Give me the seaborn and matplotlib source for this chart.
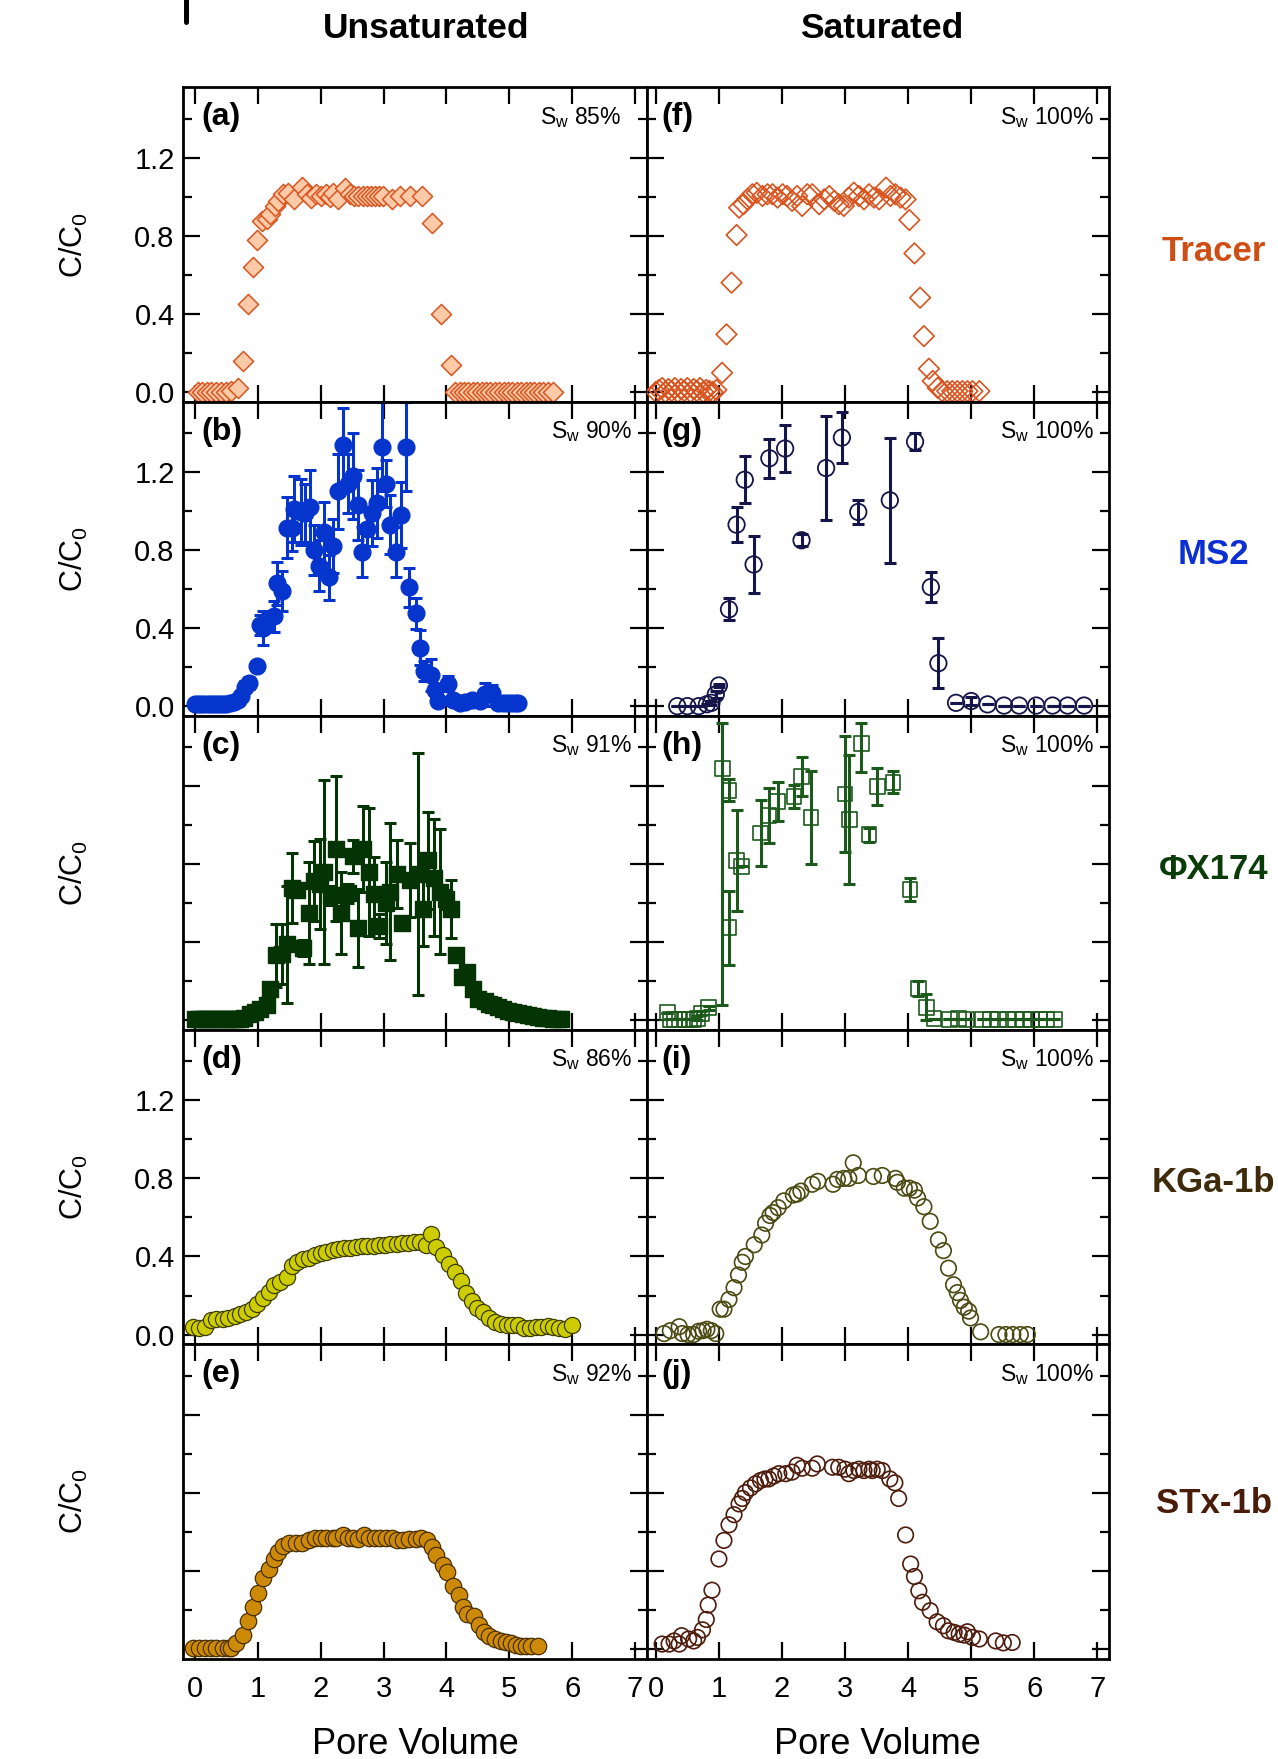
import matplotlib
matplotlib.use("Agg")
from matplotlib import pyplot as plt
from matplotlib.lines import Line2D
from matplotlib.ticker import MultipleLocator, FormatStrFormatter
import seaborn as sns

# ---------------- data ----------------
# (a) tracer, unsaturated
tracer_unsat_x = [0.05, 0.11, 0.19, 0.26, 0.34, 0.42, 0.50, 0.58, 0.69, 0.77, 0.85, 0.93,
                  0.99, 1.06, 1.14, 1.19, 1.27, 1.32, 1.40, 1.48, 1.57, 1.70, 1.78, 1.85,
                  1.92, 2.01, 2.08, 2.15, 2.20, 2.28, 2.38, 2.46, 2.53, 2.60, 2.67, 2.73,
                  2.80, 2.86, 2.93, 2.99, 3.13, 3.26, 3.42, 3.61, 3.77, 3.92, 4.07, 4.14,
                  4.21, 4.28, 4.35, 4.42, 4.49, 4.56, 4.63, 4.70, 4.77, 4.84, 4.91, 4.98,
                  5.05, 5.12, 5.19, 5.26, 5.33, 5.40, 5.47, 5.54, 5.61, 5.70]
tracer_unsat_y = [0.0, 0.0, 0.0, 0.0, 0.0, 0.0, 0.0, 0.005, 0.021, 0.16, 0.45, 0.64,
                  0.78, 0.876, 0.885, 0.91, 0.953, 0.979, 1.013, 1.021, 0.991, 1.05, 1.013, 0.996,
                  1.013, 1.004, 1.013, 1.0, 1.021, 0.991, 1.047, 1.013, 1.004, 1.004, 1.004, 1.004,
                  1.004, 1.004, 1.004, 1.004, 0.987, 1.004, 1.004, 1.004, 0.864, 0.40, 0.14, 0.0,
                  0.0, 0.0, 0.0, 0.0, 0.0, 0.0, 0.0, 0.0, 0.0, 0.0, 0.0, 0.0,
                  0.0, 0.0, 0.0, 0.0, 0.0, 0.0, 0.0, 0.0, 0.0, 0.0]

# (f) tracer, saturated
tracer_sat_x = [0.0, 0.05, 0.10, 0.15, 0.20, 0.25, 0.30, 0.35, 0.40, 0.45, 0.50, 0.55,
                0.60, 0.65, 0.70, 0.75, 0.80, 0.85, 0.90, 0.96, 1.05, 1.12, 1.20, 1.28,
                1.32, 1.39, 1.45, 1.53, 1.60, 1.69, 1.77, 1.85, 1.93, 2.01, 2.08, 2.16,
                2.24, 2.32, 2.40, 2.48, 2.59, 2.67, 2.75, 2.83, 2.90, 2.98, 3.06, 3.14,
                3.22, 3.30, 3.38, 3.46, 3.54, 3.65, 3.72, 3.80, 3.88, 3.96, 4.02, 4.10,
                4.19, 4.25, 4.33, 4.39, 4.47, 4.54, 4.62, 4.70, 4.78, 4.86, 4.94, 5.02, 5.13]
tracer_sat_y = [0.0, 0.01, 0.02, 0.0, 0.015, 0.005, 0.02, 0.0, 0.015, 0.005, 0.02, 0.0,
                0.015, 0.005, 0.02, 0.0, 0.01, 0.005, 0.0, 0.01, 0.098, 0.295, 0.56, 0.804,
                0.944, 0.962, 0.987, 1.013, 1.02, 1.004, 1.013, 1.013, 0.996, 1.013, 1.004, 0.979,
                1.004, 0.953, 1.013, 1.013, 0.962, 0.987, 1.004, 0.979, 0.962, 0.953, 0.996, 1.021,
                1.004, 0.987, 1.013, 0.996, 0.987, 1.047, 1.004, 1.013, 0.996, 0.987, 0.881, 0.71,
                0.483, 0.286, 0.119, 0.056, 0.021, 0.004, 0.004, 0.004, 0.004, 0.004, 0.004, 0.004, 0.004]

# (b) MS2, unsaturated
ms2_unsat_x = [0.00, 0.05, 0.10, 0.15, 0.20, 0.25, 0.30, 0.35, 0.40, 0.45, 0.50, 0.56,
               0.62, 0.68, 0.74, 0.79, 0.86, 0.98, 1.03, 1.09, 1.14, 1.25, 1.30, 1.38,
               1.46, 1.54, 1.57, 1.69, 1.75, 1.83, 1.90, 1.98, 2.05, 2.14, 2.20, 2.27,
               2.35, 2.44, 2.51, 2.59, 2.65, 2.74, 2.81, 2.89, 2.97, 3.04, 3.10, 3.20,
               3.27, 3.35, 3.41, 3.51, 3.58, 3.64, 3.75, 3.82, 3.87, 4.03, 4.11, 4.21,
               4.30, 4.40, 4.53, 4.61, 4.72, 4.82, 4.90, 4.96, 5.03, 5.09, 5.14]
ms2_unsat_y = [0.01, 0.01, 0.01, 0.01, 0.01, 0.01, 0.01, 0.01, 0.01, 0.01, 0.01, 0.015,
               0.02, 0.03, 0.05, 0.10, 0.12, 0.205, 0.415, 0.40, 0.43, 0.46, 0.63, 0.59,
               0.915, 0.915, 1.01, 0.995, 0.99, 1.02, 0.80, 0.72, 0.89, 0.66, 0.82, 1.10,
               1.34, 1.14, 1.18, 1.03, 0.79, 0.91, 0.99, 1.04, 1.33, 1.14, 0.93, 0.79,
               0.98, 1.33, 0.61, 0.475, 0.30, 0.18, 0.16, 0.085, 0.026, 0.116, 0.03, 0.017,
               0.02, 0.03, 0.026, 0.06, 0.068, 0.017, 0.015, 0.017, 0.017, 0.015, 0.014]
ms2_unsat_err = [0.0, 0.0, 0.0, 0.0, 0.0, 0.0, 0.0, 0.0, 0.0, 0.0, 0.0, 0.0,
                 0.01, 0.01, 0.02, 0.03, 0.03, 0.02, 0.05, 0.085, 0.04, 0.08, 0.11, 0.10,
                 0.155, 0.12, 0.17, 0.17, 0.15, 0.19, 0.13, 0.13, 0.155, 0.115, 0.14, 0.19,
                 0.19, 0.15, 0.22, 0.18, 0.13, 0.09, 0.17, 0.18, 0.23, 0.12, 0.15, 0.13,
                 0.17, 0.23, 0.10, 0.08, 0.09, 0.05, 0.08, 0.03, 0.02, 0.04, 0.02, 0.01,
                 0.01, 0.01, 0.01, 0.06, 0.04, 0.01, 0.01, 0.01, 0.01, 0.01, 0.0]

# (g) MS2, saturated
ms2_sat_x = [0.34, 0.50, 0.68, 0.81, 0.88, 0.95, 1.00, 1.16, 1.28, 1.41, 1.55, 1.80,
             2.05, 2.31, 2.70, 2.95, 3.21, 3.71, 4.11, 4.36, 4.48, 4.76, 5.00, 5.26,
             5.52, 5.76, 6.03, 6.29, 6.53, 6.79]
ms2_sat_y = [0.0, 0.0, 0.0, 0.01, 0.017, 0.06, 0.106, 0.496, 0.93, 1.16, 0.726, 1.27,
             1.32, 0.85, 1.22, 1.376, 0.995, 1.055, 1.355, 0.61, 0.22, 0.017, 0.026, 0.009,
             0.003, 0.003, 0.003, 0.003, 0.003, 0.003]
ms2_sat_err = [0.0, 0.0, 0.0, 0.0, 0.01, 0.02, 0.01, 0.056, 0.09, 0.12, 0.146, 0.10,
               0.12, 0.03, 0.265, 0.13, 0.06, 0.32, 0.045, 0.075, 0.128, 0.0, 0.02, 0.0,
               0.0, 0.0, 0.0, 0.0, 0.0, 0.0]

# (c) PhiX174, unsaturated
phix_unsat_x = [0.00, 0.06, 0.12, 0.18, 0.24, 0.30, 0.36, 0.42, 0.48, 0.54, 0.60, 0.66,
                0.72, 0.78, 0.87, 0.95, 1.03, 1.14, 1.19, 1.29, 1.38, 1.46, 1.55, 1.62,
                1.72, 1.82, 1.90, 1.99, 2.06, 2.17, 2.24, 2.33, 2.43, 2.51, 2.60, 2.68,
                2.77, 2.85, 2.93, 3.04, 3.11, 3.21, 3.29, 3.42, 3.54, 3.63, 3.71, 3.80,
                3.90, 3.99, 4.07, 4.15, 4.24, 4.33, 4.42, 4.50, 4.61, 4.68, 4.74, 4.82,
                4.90, 4.98, 5.06, 5.14, 5.22, 5.30, 5.38, 5.46, 5.54, 5.62, 5.70, 5.77, 5.83]
phix_unsat_y = [0.005, 0.005, 0.005, 0.005, 0.005, 0.005, 0.005, 0.005, 0.005, 0.005, 0.005, 0.005,
                0.008, 0.012, 0.03, 0.045, 0.06, 0.08, 0.16, 0.333, 0.34, 0.39, 0.68, 0.67,
                0.37, 0.55, 0.715, 0.70, 0.76, 0.64, 0.88, 0.55, 0.65, 0.84, 0.475, 0.88,
                0.76, 0.645, 0.484, 0.60, 0.66, 0.75, 0.50, 0.72, 0.75, 0.57, 0.82, 0.73,
                0.66, 0.62, 0.57, 0.333, 0.22, 0.25, 0.16, 0.11, 0.10, 0.085, 0.077, 0.066,
                0.056, 0.05, 0.043, 0.036, 0.03, 0.026, 0.022, 0.018, 0.014, 0.011, 0.008, 0.006, 0.005]
phix_unsat_err = [0.0, 0.0, 0.0, 0.0, 0.0, 0.0, 0.0, 0.0, 0.0, 0.0, 0.0, 0.0,
                  0.0, 0.0, 0.0, 0.0, 0.02, 0.02, 0.02, 0.16, 0.155, 0.30, 0.18, 0.02,
                  0.04, 0.26, 0.205, 0.23, 0.47, 0.05, 0.37, 0.21, 0.05, 0.085, 0.20, 0.22,
                  0.33, 0.19, 0.06, 0.21, 0.35, 0.175, 0.03, 0.19, 0.62, 0.19, 0.25, 0.30,
                  0.32, 0.05, 0.15, 0.02, 0.02, 0.03, 0.02, 0.01, 0.01, 0.0, 0.0, 0.0,
                  0.0, 0.0, 0.0, 0.0, 0.0, 0.0, 0.0, 0.0, 0.0, 0.0, 0.0, 0.0, 0.0]

# (h) PhiX174, saturated (asymmetric error bars)
phix_sat_x = [0.18, 0.23, 0.30, 0.37, 0.45, 0.53, 0.60, 0.66, 0.72, 0.84, 1.05, 1.16,
              1.16, 1.28, 1.36, 1.66, 1.79, 1.93, 2.19, 2.31, 2.46, 3.00, 3.07, 3.26,
              3.38, 3.51, 3.76, 4.03, 4.16, 4.29, 4.41, 4.65, 4.80, 4.92, 5.18, 5.31,
              5.44, 5.57, 5.70, 5.83, 5.96, 6.09, 6.20, 6.32]
phix_sat_y = [0.04, 0.005, 0.005, 0.005, 0.005, 0.005, 0.005, 0.01, 0.036, 0.065, 1.29, 1.18,
              0.475, 0.82, 0.79, 0.96, 1.05, 1.12, 1.147, 1.25, 1.04, 1.16, 1.03, 1.42,
              0.95, 1.20, 1.22, 0.67, 0.164, 0.068, 0.009, 0.005, 0.009, 0.005, 0.005, 0.005,
              0.005, 0.005, 0.005, 0.005, 0.005, 0.005, 0.005, 0.005]
phix_sat_err_lo = [0.0, 0.0, 0.0, 0.0, 0.0, 0.0, 0.0, 0.01, 0.01, 0.01, 1.213, 0.055,
                   0.19, 0.26, 0.0, 0.17, 0.14, 0.10, 0.06, 0.10, 0.24, 0.295, 0.33, 0.147,
                   0.038, 0.095, 0.057, 0.057, 0.04, 0.065, 0.0, 0.0, 0.0, 0.0, 0.0, 0.0,
                   0.0, 0.0, 0.0, 0.0, 0.0, 0.0, 0.0, 0.0]
phix_sat_err_hi = [0.0, 0.0, 0.0, 0.0, 0.0, 0.0, 0.0, 0.01, 0.01, 0.01, 0.236, 0.055,
                   0.19, 0.26, 0.0, 0.17, 0.14, 0.10, 0.06, 0.10, 0.24, 0.295, 0.33, 0.106,
                   0.038, 0.095, 0.057, 0.057, 0.04, 0.065, 0.0, 0.0, 0.0, 0.0, 0.0, 0.0,
                   0.0, 0.0, 0.0, 0.0, 0.0, 0.0, 0.0, 0.0]

# (d) KGa-1b, unsaturated
kga_unsat_x = [-0.03, 0.07, 0.16, 0.25, 0.34, 0.44, 0.53, 0.63, 0.72, 0.81, 0.90, 0.99,
               1.09, 1.18, 1.26, 1.36, 1.46, 1.54, 1.63, 1.72, 1.82, 1.91, 2.00, 2.09,
               2.19, 2.28, 2.37, 2.46, 2.56, 2.65, 2.74, 2.84, 2.93, 3.02, 3.11, 3.21,
               3.30, 3.39, 3.49, 3.58, 3.67, 3.76, 3.84, 3.95, 4.04, 4.13, 4.23, 4.31,
               4.40, 4.49, 4.58, 4.68, 4.77, 4.86, 4.96, 5.05, 5.14, 5.23, 5.33, 5.42,
               5.51, 5.61, 5.70, 5.79, 5.88, 5.99]
kga_unsat_y = [0.039, 0.034, 0.039, 0.074, 0.082, 0.079, 0.085, 0.096, 0.104, 0.116, 0.133, 0.159,
               0.188, 0.219, 0.253, 0.270, 0.296, 0.350, 0.373, 0.385, 0.393, 0.407, 0.419, 0.424,
               0.432, 0.436, 0.441, 0.446, 0.450, 0.453, 0.453, 0.455, 0.458, 0.458, 0.462, 0.463,
               0.467, 0.467, 0.472, 0.472, 0.458, 0.513, 0.450, 0.410, 0.364, 0.321, 0.274, 0.214,
               0.171, 0.137, 0.116, 0.085, 0.065, 0.056, 0.051, 0.048, 0.048, 0.034, 0.034, 0.039,
               0.039, 0.043, 0.039, 0.034, 0.027, 0.048]

# (i) KGa-1b, saturated
kga_sat_x = [0.13, 0.23, 0.37, 0.42, 0.51, 0.60, 0.68, 0.75, 0.81, 0.88, 0.95, 1.02,
             1.08, 1.16, 1.24, 1.31, 1.37, 1.42, 1.56, 1.68, 1.74, 1.81, 1.86, 1.94,
             2.03, 2.18, 2.24, 2.30, 2.48, 2.57, 2.81, 2.88, 2.98, 3.06, 3.13, 3.21,
             3.45, 3.59, 3.80, 3.83, 3.94, 4.02, 4.10, 4.15, 4.25, 4.35, 4.48, 4.56,
             4.64, 4.72, 4.78, 4.83, 4.89, 4.96, 4.99, 5.15, 5.44, 5.55, 5.66, 5.78, 5.89]
kga_sat_y = [0.005, 0.02, 0.04, 0.005, 0.0, 0.0, 0.017, 0.02, 0.027, 0.02, 0.005, 0.13,
             0.13, 0.18, 0.24, 0.305, 0.37, 0.40, 0.46, 0.51, 0.57, 0.61, 0.625, 0.65,
             0.685, 0.715, 0.72, 0.735, 0.77, 0.785, 0.77, 0.795, 0.80, 0.80, 0.88, 0.815,
             0.81, 0.815, 0.80, 0.78, 0.75, 0.75, 0.74, 0.70, 0.655, 0.58, 0.485, 0.43,
             0.34, 0.255, 0.215, 0.175, 0.14, 0.12, 0.085, 0.014, 0.0, 0.0, 0.0, 0.0, 0.0]

# (e) STx-1b, unsaturated
stx_unsat_x = [-0.03, 0.07, 0.16, 0.25, 0.34, 0.44, 0.53, 0.58, 0.66, 0.76, 0.84, 0.92,
               1.00, 1.09, 1.17, 1.26, 1.32, 1.40, 1.50, 1.61, 1.71, 1.82, 1.91, 2.00,
               2.09, 2.19, 2.25, 2.35, 2.44, 2.52, 2.60, 2.69, 2.77, 2.86, 2.95, 3.04,
               3.13, 3.22, 3.31, 3.41, 3.51, 3.60, 3.69, 3.77, 3.84, 3.94, 4.01, 4.11,
               4.20, 4.27, 4.33, 4.44, 4.52, 4.59, 4.68, 4.77, 4.86, 4.94, 5.03, 5.11,
               5.19, 5.27, 5.35, 5.45]
stx_unsat_y = [0.005, 0.005, 0.005, 0.005, 0.005, 0.005, 0.005, 0.005, 0.03, 0.07, 0.14, 0.215,
               0.285, 0.365, 0.41, 0.46, 0.495, 0.525, 0.54, 0.54, 0.54, 0.555, 0.565, 0.565,
               0.57, 0.57, 0.57, 0.585, 0.57, 0.565, 0.56, 0.585, 0.57, 0.57, 0.57, 0.565,
               0.565, 0.555, 0.555, 0.56, 0.56, 0.57, 0.555, 0.52, 0.48, 0.43, 0.395, 0.32,
               0.275, 0.215, 0.18, 0.17, 0.12, 0.087, 0.067, 0.05, 0.04, 0.032, 0.03, 0.02,
               0.012, 0.012, 0.012, 0.012]

# (j) STx-1b, saturated
stx_sat_x = [0.10, 0.21, 0.29, 0.37, 0.41, 0.52, 0.60, 0.66, 0.74, 0.80, 0.83, 0.89,
             1.00, 1.08, 1.16, 1.24, 1.32, 1.37, 1.42, 1.50, 1.58, 1.66, 1.73, 1.79,
             1.87, 1.95, 2.06, 2.16, 2.24, 2.32, 2.48, 2.56, 2.80, 2.90, 3.00, 3.06,
             3.14, 3.22, 3.30, 3.38, 3.43, 3.51, 3.59, 3.71, 3.79, 3.85, 3.96, 4.04,
             4.10, 4.17, 4.23, 4.35, 4.46, 4.56, 4.64, 4.73, 4.81, 4.89, 4.94, 5.02,
             5.13, 5.39, 5.51, 5.65]
stx_sat_y = [0.024, 0.024, 0.04, 0.024, 0.067, 0.05, 0.04, 0.058, 0.097, 0.15, 0.224, 0.30,
             0.46, 0.555, 0.635, 0.687, 0.742, 0.77, 0.80, 0.824, 0.845, 0.862, 0.87, 0.87,
             0.885, 0.897, 0.897, 0.905, 0.94, 0.925, 0.925, 0.947, 0.93, 0.93, 0.92, 0.897,
             0.913, 0.92, 0.913, 0.92, 0.913, 0.92, 0.913, 0.87, 0.85, 0.77, 0.583, 0.434,
             0.37, 0.297, 0.238, 0.195, 0.138, 0.118, 0.092, 0.084, 0.075, 0.07, 0.087, 0.058,
             0.05, 0.04, 0.03, 0.032]

col_titles = ["Unsaturated", "Saturated"]
row_names = ["Tracer", "MS2", "\u03a6X174", "KGa-1b", "STx-1b"]
row_colors = ["#cf4e14", "#0d30d2", "#0a3c0a", "#3d2b0c", "#4a1c0a"]
panel_tags = [["(a)", "(b)", "(c)", "(d)", "(e)"], ["(f)", "(g)", "(h)", "(i)", "(j)"]]
sw_values = [["85%", "90%", "91%", "86%", "92%"], ["100%"] * 5]

W, H = 1278, 1759


def _axes_rect(col, row):
    # pixel layout measured on the reference
    left = [183, 647][col]
    width = [464, 462][col]
    top = 87.5 + row * 314.2
    return [left / W, 1 - (top + 314.2) / H, width / W, 314.2 / H]


def _style(ax, col, row):
    ax.set_xlim([(-0.19, 7.19), (-0.14, 7.185)][col])
    ax.set_ylim(-0.05, 1.56)
    ax.xaxis.set_major_locator(MultipleLocator(1))
    ax.yaxis.set_major_locator(MultipleLocator(0.4))
    ax.yaxis.set_minor_locator(MultipleLocator(0.2))
    ax.yaxis.set_major_formatter(FormatStrFormatter("%.1f"))
    ax.tick_params(which="both", direction="in", top=True, right=True,
                   width=1.6, color="black", labelcolor="black", labelsize=21)
    ax.tick_params(which="major", length=12)
    ax.tick_params(which="minor", length=6.5)
    ax.tick_params(axis="x", pad=12)
    ax.tick_params(axis="y", pad=6)
    ax.tick_params(labelbottom=(row == 4), labelleft=(col == 0 and row in (0, 1, 3)))
    for sp in ax.spines.values():
        sp.set_linewidth(2.0)
        sp.set_color("black")
        sp.set_visible(True)
    ax.set_xlabel("")
    ax.set_ylabel("")


def _draw(ax, x, y, marker, size, face, edge, lw, err=None):
    if err is not None:
        ax.errorbar(x, y, yerr=err, fmt="none", ecolor=edge, elinewidth=2.2,
                    capsize=4.5, capthick=2.2, zorder=2)
    sns.scatterplot(x=x, y=y, ax=ax, marker=marker, s=size, color=edge,
                    facecolor=face, edgecolor=edge, linewidth=lw, zorder=3,
                    legend=False)


def main():
    sns.set_theme(style="ticks")
    plt.rcParams["font.family"] = ["Liberation Sans", "DejaVu Sans"]
    plt.rcParams["mathtext.default"] = "regular"
    plt.rcParams["text.color"] = "black"

    fig = plt.figure(figsize=(W / 100, H / 100), dpi=100)
    axes = [[fig.add_axes(_axes_rect(c, r)) for r in range(5)] for c in range(2)]

    # left column: unsaturated
    _draw(axes[0][0], tracer_unsat_x, tracer_unsat_y, "D", 105, "#ffcaa8", "#d9541e", 1.1)
    _draw(axes[0][1], ms2_unsat_x, ms2_unsat_y, "o", 145, "#0535cc", "#0535cc", 1.0, ms2_unsat_err)
    _draw(axes[0][2], phix_unsat_x, phix_unsat_y, "s", 135, "#043304", "#043304", 1.0, phix_unsat_err)
    _draw(axes[0][3], kga_unsat_x, kga_unsat_y, "o", 135, "#cccc00", "#3c3c00", 0.9)
    _draw(axes[0][4], stx_unsat_x, stx_unsat_y, "o", 140, "#cc8a08", "#4a3000", 0.9)

    # right column: saturated
    _draw(axes[1][0], tracer_sat_x, tracer_sat_y, "D", 110, "none", "#d9541e", 1.2)
    _draw(axes[1][1], ms2_sat_x, ms2_sat_y, "o", 140, "none", "#15154a", 1.3, ms2_sat_err)
    _draw(axes[1][2], phix_sat_x, phix_sat_y, "s", 115, "none", "#1b5a1b", 1.2,
          [phix_sat_err_lo, phix_sat_err_hi])
    _draw(axes[1][3], kga_sat_x, kga_sat_y, "o", 125, "none", "#4a4a12", 1.2)
    _draw(axes[1][4], stx_sat_x, stx_sat_y, "o", 125, "none", "#4d1c0c", 1.2)

    for c in range(2):
        for r in range(5):
            ax = axes[c][r]
            _style(ax, c, r)
            ax.text([0.04, 0.032][c], 0.905, panel_tags[c][r], transform=ax.transAxes,
                    fontsize=23, fontweight="bold", ha="left", va="center")
            ax.text(0.968 if (c, r) != (0, 0) else 0.945, 0.905,
                    r"S$_\mathregular{w}$ " + sw_values[c][r], transform=ax.transAxes,
                    fontsize=16.5, ha="right", va="center")

    label_y = [0.478, 0.515, 0.51, 0.515, 0.494]
    for r in range(5):
        ax = axes[0][r]
        ax.text(-0.236, 0.5, r"C/C$_\mathregular{0}$", transform=ax.transAxes,
                rotation=90, fontsize=22, ha="center", va="center")
        axes[1][r].text(1.227, label_y[r], row_names[r], transform=axes[1][r].transAxes,
                        fontsize=25, fontweight="bold", color=row_colors[r],
                        ha="center", va="center")

    fig.text(426 / W, 1 - 28 / H, col_titles[0], fontsize=25.5, fontweight="bold",
             ha="center", va="center")
    fig.text(882 / W, 1 - 28 / H, col_titles[1], fontsize=25.5, fontweight="bold",
             ha="center", va="center")
    fig.text(415 / W, 5 / H, "Pore Volume", fontsize=26, ha="center", va="baseline")
    fig.text(877 / W, 5 / H, "Pore Volume", fontsize=26, ha="center", va="baseline")

    # the cut-off mark in the top-left corner
    fig.add_artist(Line2D([186 / W, 186 / W], [1.0, 1 - 22 / H],
                          transform=fig.transFigure, color="black", lw=3.6))

    fig.savefig("out.png", dpi=100)


main()
